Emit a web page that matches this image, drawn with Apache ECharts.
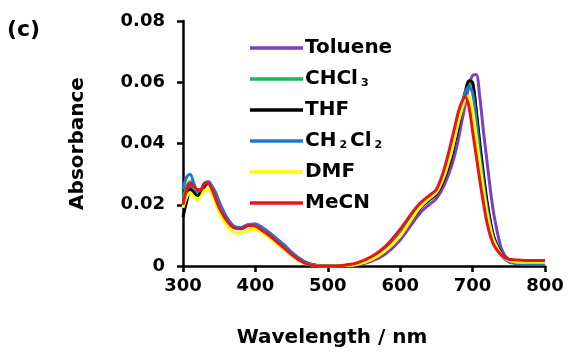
<!DOCTYPE html>
<html><head><meta charset="utf-8">
<script src="https://cdn.jsdelivr.net/npm/echarts@6/dist/echarts.min.js"></script>
<style>html,body{margin:0;padding:0;background:#fff}#c{width:571px;height:353px}</style>
</head><body><div id="c"></div>
<script>
const wavelengths = [300,305,310,315,320,325,330,335,340,345,350,360,370,380,390,400,410,420,430,440,450,460,470,480,490,500,520,540,560,580,600,620,630,640,650,660,670,675,680,685,690,695,700,705,710,715,720,725,730,740,750,760,780,800];
const seriesNames = ['Toluene','CHCl3','THF','CH2Cl2','DMF','MeCN'];
const toluene = [0.019,0.024,0.026,0.025,0.024,0.025,0.027,0.0275,0.026,0.024,0.021,0.016,0.013,0.0125,0.0135,0.0137,0.0125,0.0108,0.0088,0.0068,0.0045,0.0026,0.0012,0.0004,0.0001,0,0,0.0003,0.0015,0.004,0.0085,0.015,0.018,0.020,0.022,0.026,0.032,0.036,0.041,0.047,0.053,0.059,0.0622,0.0625,0.055,0.044,0.034,0.024,0.016,0.0055,0.002,0.001,0.0006,0.0005];
const chcl3 = [0.022,0.026,0.0275,0.0255,0.024,0.0245,0.0265,0.027,0.0255,0.023,0.020,0.0155,0.0128,0.0123,0.0133,0.0133,0.012,0.0103,0.0083,0.0063,0.0041,0.0023,0.001,0.0003,0,0,0.0001,0.0006,0.0022,0.0052,0.010,0.0168,0.0198,0.0218,0.0238,0.0285,0.0355,0.0405,0.0455,0.0515,0.0565,0.0598,0.059,0.050,0.039,0.029,0.020,0.0135,0.0088,0.0038,0.0015,0.001,0.0008,0.0008];
const thf = [0.016,0.021,0.025,0.024,0.023,0.024,0.026,0.027,0.0255,0.023,0.020,0.0155,0.0127,0.0122,0.0132,0.0132,0.0119,0.0102,0.0082,0.0062,0.004,0.0022,0.001,0.0003,0,0,0.0001,0.0006,0.002,0.005,0.010,0.0165,0.0195,0.0215,0.0235,0.028,0.035,0.040,0.045,0.051,0.057,0.0605,0.060,0.051,0.040,0.030,0.021,0.014,0.009,0.004,0.0015,0.001,0.0008,0.0008];
const ch2cl2 = [0.025,0.029,0.030,0.027,0.0245,0.025,0.027,0.0275,0.026,0.0235,0.0205,0.016,0.013,0.0125,0.0135,0.0136,0.0123,0.0106,0.0086,0.0066,0.0044,0.0025,0.0011,0.0003,0,0,0.0001,0.0007,0.0024,0.0055,0.0105,0.0172,0.0202,0.0222,0.0242,0.029,0.0365,0.0415,0.047,0.0525,0.057,0.0585,0.0565,0.048,0.037,0.0275,0.019,0.0125,0.0082,0.0035,0.0013,0.0008,0.0006,0.0006];
const dmf = [0.019,0.0225,0.024,0.0225,0.0215,0.0228,0.0248,0.025,0.0235,0.0205,0.0175,0.0135,0.011,0.0108,0.0118,0.012,0.0107,0.0091,0.0072,0.0053,0.0034,0.0018,0.0007,0.0002,0,0,0.0001,0.0005,0.002,0.005,0.0098,0.0168,0.0198,0.022,0.024,0.029,0.0365,0.0415,0.0465,0.051,0.0545,0.0555,0.051,0.0425,0.0335,0.025,0.0175,0.0118,0.0078,0.0036,0.0018,0.0013,0.0012,0.0012];
const mecn = [0.020,0.025,0.027,0.026,0.025,0.025,0.027,0.027,0.025,0.022,0.019,0.015,0.0125,0.0122,0.0132,0.0130,0.0115,0.0098,0.0078,0.0058,0.0037,0.0020,0.0008,0.0002,0,0,0.0002,0.0010,0.0030,0.0065,0.0120,0.0185,0.0210,0.0230,0.0250,0.0310,0.0400,0.0450,0.0500,0.0535,0.0553,0.0520,0.0440,0.0360,0.0280,0.0205,0.0140,0.0095,0.0065,0.0035,0.0022,0.0020,0.0018,0.0018];
const xTicks = [300,400,500,600,700,800];
const yTicks = [0,0.02,0.04,0.06,0.08];
const colors = ['#7d3fc2','#1db45a','#000000','#1f7ac9','#ffff00','#e8141c'];
const allData = [toluene, chcl3, thf, ch2cl2, dmf, mecn];

const FONT = 'DejaVu Sans';
const chart = echarts.init(document.getElementById('c'));
chart.setOption({
  animation: false,
  backgroundColor: '#fff',
  grid: {left: 183, right: 26, top: 21, bottom: 83},
  graphic: [{type:'text', left: 7, top: 19, style:{text:'(c)', font:'bold 22px "DejaVu Sans"', fill:'#000'}}],
  legend: {
    orient: 'vertical', left: 245, top: 33, itemWidth: 53, itemHeight: 3.5, itemGap: 11, icon: 'rect',
    data: seriesNames,
    textStyle: {fontFamily: FONT, fontWeight: 'bold', fontSize: 20, color: '#000', padding: [0,0,0,-3],
      rich: {s: {fontFamily: FONT, fontWeight: 'bold', fontSize: 11, color:'#000', padding: [8, 3, 0, 3]}}},
    formatter: n => n.replace(/(\d)/g, '{s|$1}')
  },
  xAxis: {
    type: 'value', min: 300, max: 800, interval: 100,
    name: 'Wavelength / nm', nameLocation: 'middle', nameGap: 62,
    nameTextStyle: {fontFamily: FONT, fontWeight: 'bold', fontSize: 20, color: '#000', padding: [0, 64, 0, 0]},
    axisLine: {show: true, lineStyle: {color: '#000', width: 2.5}},
    axisTick: {show: true, length: 6, lineStyle: {color: '#000', width: 2.5}},
    axisLabel: {fontFamily: FONT, fontWeight: 'bold', fontSize: 18, color: '#000', margin: 11,
      formatter: v => xTicks.includes(v) ? String(v) : ''},
    splitLine: {show: false}
  },
  yAxis: {
    type: 'value', min: 0, max: 0.08, interval: 0.02,
    name: 'Absorbance', nameLocation: 'middle', nameGap: 95,
    nameTextStyle: {fontFamily: FONT, fontWeight: 'bold', fontSize: 20, color: '#000'},
    axisLine: {show: true, lineStyle: {color: '#000', width: 2.5}},
    axisTick: {show: true, length: 6, lineStyle: {color: '#000', width: 2.5}},
    axisLabel: {fontFamily: FONT, fontWeight: 'bold', fontSize: 18, color: '#000', margin: 18,
      formatter: v => { const t = yTicks.find(y => Math.abs(y - v) < 1e-9); return t === 0 ? '0' : (t !== undefined ? t.toFixed(2) : ''); }},
    splitLine: {show: false}
  },
  series: seriesNames.map((n, i) => ({
    name: n, type: 'line', smooth: 0.3, symbol: 'none',
    color: colors[i],
    lineStyle: {width: 3, color: colors[i]},
    data: wavelengths.map((w, j) => [w, allData[i][j]])
  }))
});
</script></body></html>
